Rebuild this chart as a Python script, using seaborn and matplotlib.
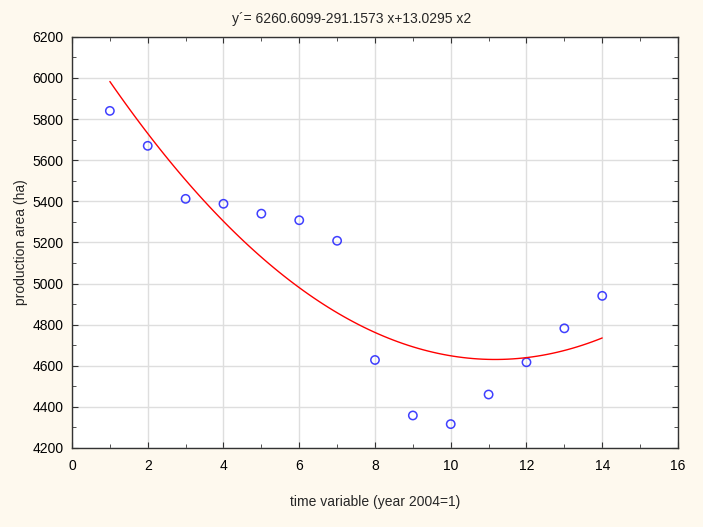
import numpy as np
import pandas as pd
import matplotlib
matplotlib.use("Agg")
import matplotlib.pyplot as plt
import seaborn as sns
from matplotlib.ticker import MultipleLocator

time_var = [1, 2, 3, 4, 5, 6, 7, 8, 9, 10, 11, 12, 13, 14]
area = [5840, 5670, 5412, 5388, 5340, 5308, 5208, 4628, 4358, 4316, 4460, 4617, 4782, 4940]
title = "y\u00b4= 6260.6099-291.1573 x+13.0295 x2"
xlabel = "time variable (year 2004=1)"
ylabel = "production area (ha)"

df = pd.DataFrame({"x": time_var, "y": area})

sns.set_style("white")
plt.rcParams["font.family"] = ["Liberation Sans", "DejaVu Sans"]

bg = "#FEF9EE"
fig = plt.figure(figsize=(7.03, 5.27), dpi=100, facecolor=bg)
ax = fig.add_axes([0.1024, 0.150, 0.862, 0.780])
ax.set_facecolor("white")

sns.regplot(data=df, x="x", y="y", order=2, ci=None, truncate=True, ax=ax,
            scatter_kws=dict(marker="o", s=36, facecolors="none", edgecolors="#1010FF", linewidths=1.1),
            line_kws=dict(color="#FF0000", lw=1.0))

ax.set_xlim(0, 16)
ax.set_ylim(4200, 6200)
ax.xaxis.set_major_locator(MultipleLocator(2))
ax.xaxis.set_minor_locator(MultipleLocator(1))
ax.yaxis.set_major_locator(MultipleLocator(200))
ax.yaxis.set_minor_locator(MultipleLocator(100))
ax.grid(True, which="major", color="#DEDEDE", lw=1.0)
ax.set_axisbelow(True)
ax.tick_params(which="both", direction="in", top=True, right=True, bottom=True, left=True,
               labelsize=10, color="#333333", labelcolor="black")
ax.tick_params(which="major", length=4)
ax.tick_params(which="minor", length=3)
ax.tick_params(axis="x", pad=8)
ax.tick_params(axis="y", pad=6)
for s in ax.spines.values():
    s.set_color("#333333")
    s.set_linewidth(1.0)

ax.set_title(title, fontsize=10, pad=10, x=0.461)
ax.set_xlabel(xlabel, fontsize=10, labelpad=16)
ax.set_ylabel(ylabel, fontsize=10, labelpad=3)

fig.savefig("out.png", dpi=100, facecolor=bg)
